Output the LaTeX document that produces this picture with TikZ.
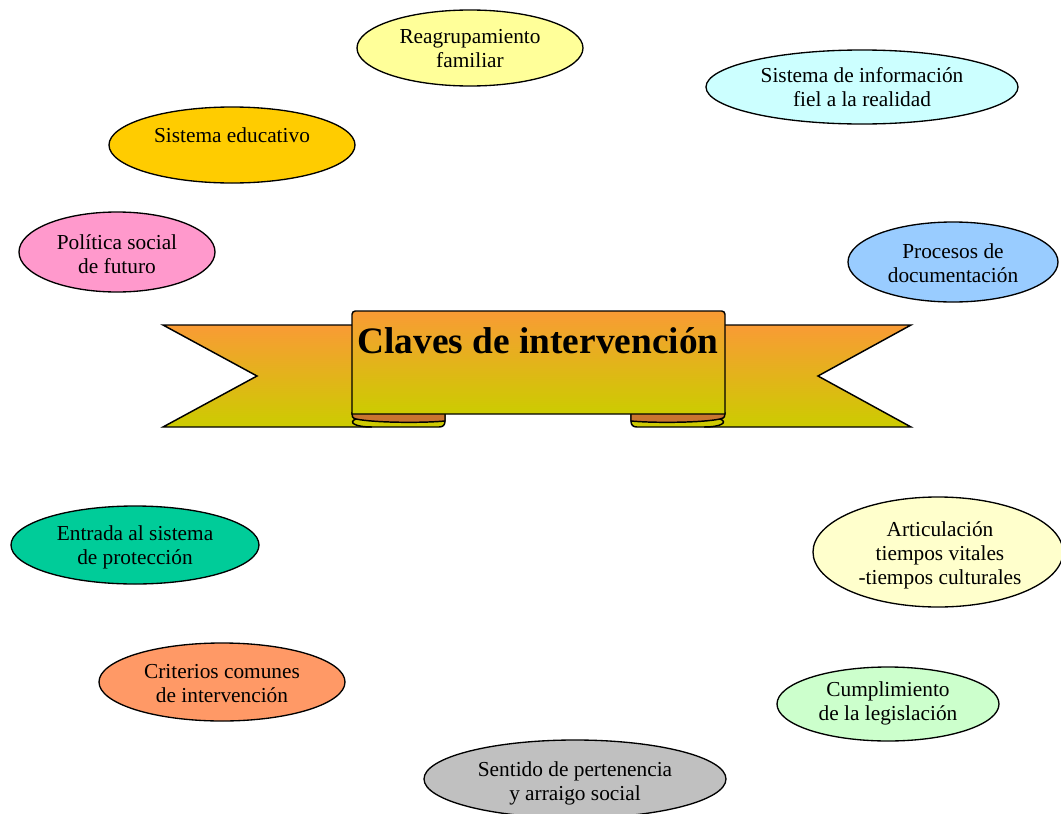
\documentclass[tikz,border=0pt]{standalone}
\usepackage{fontspec}
\setmainfont{Liberation Serif}
\usetikzlibrary{shapes.geometric}
\definecolor{cReag}{HTML}{FFFF99}
\definecolor{cInfo}{HTML}{CCFFFF}
\definecolor{cEduc}{HTML}{FFCC00}
\definecolor{cPoli}{HTML}{FF99CC}
\definecolor{cProc}{HTML}{99CCFF}
\definecolor{cEntr}{HTML}{00CC99}
\definecolor{cArti}{HTML}{FFFFCC}
\definecolor{cCrit}{HTML}{FF9966}
\definecolor{cCump}{HTML}{CCFFCC}
\definecolor{cSent}{HTML}{C0C0C0}
\definecolor{bTop}{HTML}{F99B35}
\definecolor{bBot}{HTML}{CCCC00}
\definecolor{bFold}{HTML}{C97530}
\begin{document}
\begin{tikzpicture}[x=0.75pt,y=-0.75pt,
  bubble/.style={ellipse, draw=black, line width=1pt, inner sep=0pt},
  etxt/.style={align=center, font=\fontsize{16}{18}\selectfont, inner sep=0pt, text=black},
  ribbon/.style={draw=black, line width=1.1pt, line join=miter, top color=bTop, bottom color=bBot},
  fold/.style={draw=black, line width=1.1pt, fill=bFold}]
\clip (0,0) rectangle (1061,814);
\fill[white] (0,0) rectangle (1061,814);

% ellipses
\node[bubble, fill=cReag, minimum width=169.5pt, minimum height=57pt] (reag) at (470,48) {};
\node[etxt] (reagT) at (470,49) {Reagrupamiento\\familiar};

\node[bubble, fill=cInfo, minimum width=234pt, minimum height=55.5pt] (info) at (862,87) {};
\node[etxt] (infoT) at (862,87) {Sistema de información\\fiel a la realidad};

\node[bubble, fill=cEduc, minimum width=184.5pt, minimum height=57pt] (educ) at (232,145) {};
\node[etxt] (educT) at (232,135) {Sistema educativo};

\node[bubble, fill=cPoli, minimum width=147pt, minimum height=60pt] (poli) at (117,252) {};
\node[etxt] (poliT) at (117,254) {Política social\\de futuro};

\node[bubble, fill=cProc, minimum width=157.5pt, minimum height=60pt] (proc) at (953,262) {};
\node[etxt] (procT) at (953,263) {Procesos de\\documentación};

\node[bubble, fill=cEntr, minimum width=186pt, minimum height=58.5pt] (entr) at (135,545) {};
\node[etxt] (entrT) at (135,547) {Entrada al sistema\\de protección};

\node[bubble, fill=cArti, minimum width=187.5pt, minimum height=82.5pt] (arti) at (938,552) {};
\node[etxt] (artiT) at (940,555) {Articulación\\tiempos vitales\\-tiempos culturales};

\node[bubble, fill=cCrit, minimum width=184.5pt, minimum height=58.5pt] (crit) at (222,682) {};
\node[etxt] (critT) at (222,684) {Criterios comunes\\de intervención};

\node[bubble, fill=cCump, minimum width=166.5pt, minimum height=55.5pt] (cump) at (888,704) {};
\node[etxt] (cumpT) at (888,703) {Cumplimiento\\de la legislación};

\node[bubble, fill=cSent, minimum width=226.5pt, minimum height=58.5pt] (sent) at (575,779) {};
\node[etxt] (sentT) at (575,783) {Sentido de pertenencia\\y arraigo social};

% banner tails
\path[ribbon] (163,325) -- (445,325) -- (445,421) .. controls (445,425) and (443,427) .. (439,427) -- (163,427) -- (257,376) -- cycle;
\path[ribbon] (911,325) -- (631,325) -- (631,421) .. controls (631,425) and (633,427) .. (637,427) -- (911,427) -- (818,376) -- cycle;
% folds
\path[fold] (352,413) -- (445,413) -- (445,421) .. controls (425,423) and (375,423) .. (356,419) .. controls (352,418) and (352,416) .. (352,413) -- cycle;
\path[fold] (725,413) -- (631,413) -- (631,421) .. controls (651,423) and (701,423) .. (720,419) .. controls (725,418) and (725,416) .. (725,413) -- cycle;
\draw[line width=1.1pt] (356,419) .. controls (348,422) and (354,427) .. (372,427);
\draw[line width=1.1pt] (720,419) .. controls (728,422) and (722,427) .. (704,427);
% central panel
\path[ribbon] (352,414) [rounded corners=2.5pt] -- (352,311) -- (725,311) [sharp corners] -- (725,414) -- cycle;
\node[font=\fontsize{28}{30}\selectfont\bfseries, inner sep=0pt] (title) at (538,341) {Claves de intervención};
\end{tikzpicture}
\end{document}
